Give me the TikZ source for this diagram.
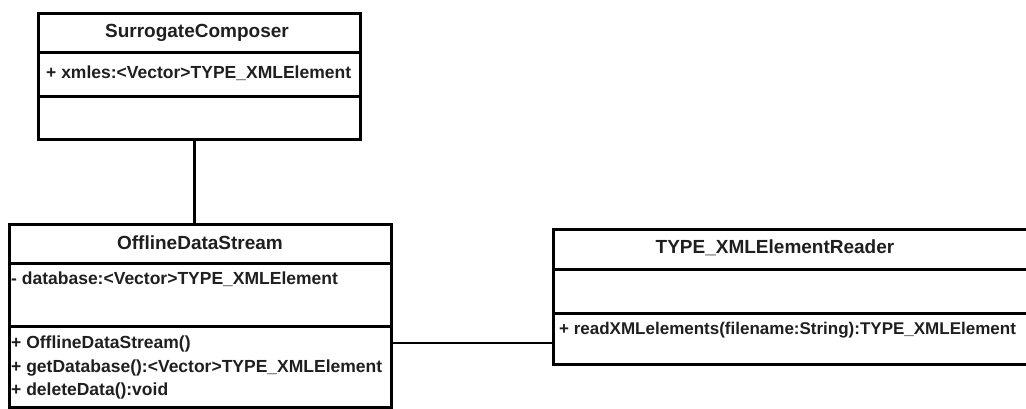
\documentclass[tikz,border=0pt]{standalone}
\usepackage{fontspec}
\setmainfont{Liberation Sans}
\begin{document}
\begin{tikzpicture}[x=1pt,y=-1pt,
  classbox/.style={draw=black, line width=3pt, rectangle, anchor=north west, inner sep=0pt},
  divider/.style={draw=black, line width=3pt},
  link/.style={draw=black, line width=2.6pt},
  title/.style={font=\fontsize{19}{22}\selectfont\bfseries, text=black!88, inner sep=0pt},
  member/.style={font=\fontsize{17.5}{20}\selectfont\bfseries, text=black!88, inner sep=0pt, anchor=west},
  longmember/.style={member, font=\fontsize{17}{20}\selectfont\bfseries}]
\useasboundingbox (0,0) rectangle (1026,408);

% SurrogateComposer
\node[classbox, minimum width=322pt, minimum height=126pt] (sc) at (37,12) {};
\draw[divider] (37,52) -- (359,52);
\draw[divider] (37,96) -- (359,96);
\node[title] (scname) at (197,33) {SurrogateComposer};
\node[member] (scattr) at (46,73) {+ xmles:<Vector>TYPE\_XMLElement};

% OfflineDataStream
\node[classbox, minimum width=382pt, minimum height=183pt] (ods) at (8,223) {};
\draw[divider] (8,263) -- (390,263);
\draw[divider] (8,326) -- (390,326);
\node[title] (odsname) at (200,243) {OfflineDataStream};
\node[member] (odsattr) at (11,279) {- database:<Vector>TYPE\_XMLElement};
\node[member] (odsm1) at (11,344) {+ OfflineDataStream()};
\node[member] (odsm2) at (11,368) {+ getDatabase():<Vector>TYPE\_XMLElement};
\node[member] (odsm3) at (11,391) {+ deleteData():void};

% TYPE_XMLElementReader (its right side runs past the page edge)
\node[classbox, minimum width=477pt, minimum height=135pt] (txr) at (552,228) {};
\draw[divider] (552,269) -- (1029,269);
\draw[divider] (552,313) -- (1029,313);
\node[title] (txrname) at (775,248) {TYPE\_XMLElementReader};
\node[longmember] (txrm1) at (559,330) {+ readXMLelements(filename:String):TYPE\_XMLElement};

% associations
\coordinate (row) at (0,343);
\draw[link] ([xshift=-5pt]sc.south) -- ([xshift=-5pt]sc.south |- ods.north);
\draw[link] (ods.east |- row) -- (txr.west |- row);
\end{tikzpicture}
\end{document}
